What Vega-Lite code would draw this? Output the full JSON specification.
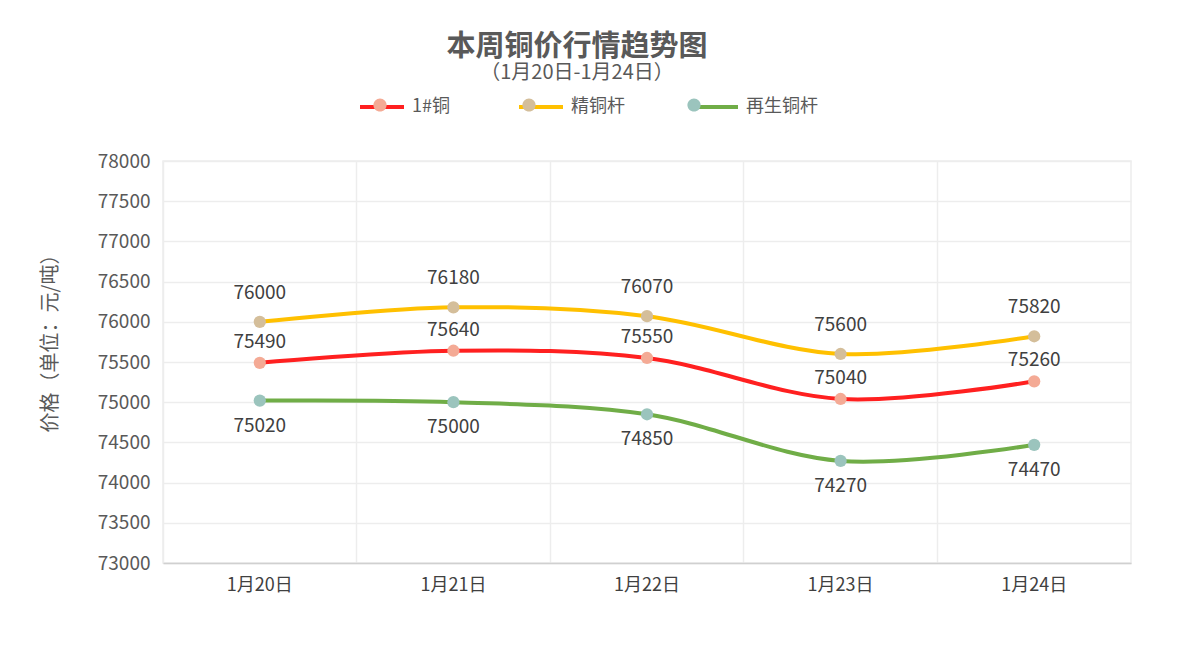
{
  "$schema": "https://vega.github.io/schema/vega-lite/v6.json",
  "width": 968,
  "height": 402,
  "autosize": {"type": "none"},
  "padding": {"left": 163, "top": 161, "right": 49, "bottom": 83},
  "background": "white",
  "config": {
    "font": "Noto Sans CJK SC",
    "view": {"stroke": "#EDEDED", "strokeWidth": 1.5},
    "legend": {"padding": 0}
  },
  "title": {
    "text": "本周铜价行情趋势图",
    "subtitle": "（1月20日-1月24日）",
    "anchor": "middle",
    "dx": -70,
    "fontSize": 29,
    "fontWeight": "bold",
    "color": "#595959",
    "subtitleFontSize": 20,
    "subtitleColor": "#595959",
    "subtitlePadding": 1,
    "offset": 0
  },
  "data": {
    "values": [
      {"date": "1月20日", "series": "1#铜", "price": 75490},
      {"date": "1月21日", "series": "1#铜", "price": 75640},
      {"date": "1月22日", "series": "1#铜", "price": 75550},
      {"date": "1月23日", "series": "1#铜", "price": 75040},
      {"date": "1月24日", "series": "1#铜", "price": 75260},
      {"date": "1月20日", "series": "精铜杆", "price": 76000},
      {"date": "1月21日", "series": "精铜杆", "price": 76180},
      {"date": "1月22日", "series": "精铜杆", "price": 76070},
      {"date": "1月23日", "series": "精铜杆", "price": 75600},
      {"date": "1月24日", "series": "精铜杆", "price": 75820},
      {"date": "1月20日", "series": "再生铜杆", "price": 75020},
      {"date": "1月21日", "series": "再生铜杆", "price": 75000},
      {"date": "1月22日", "series": "再生铜杆", "price": 74850},
      {"date": "1月23日", "series": "再生铜杆", "price": 74270},
      {"date": "1月24日", "series": "再生铜杆", "price": 74470}
    ]
  },
  "resolve": {"axis": {"x": "independent"}},
  "layer": [
    {
      "mark": {"type": "line", "interpolate": "catmull-rom", "strokeWidth": 4},
      "encoding": {
        "x": {
          "field": "date", "type": "nominal", "sort": null, "bandPosition": 0.5,
          "scale": {"type": "band", "paddingInner": 0, "paddingOuter": 0},
          "axis": {
            "orient": "bottom", "title": null, "labels": false, "ticks": false,
            "grid": true, "bandPosition": 0, "gridColor": "#EDEDED", "gridWidth": 1.5,
            "domain": true, "domainColor": "#D0D0D0", "domainWidth": 1.5
          }
        },
        "y": {
          "field": "price", "type": "quantitative",
          "scale": {"domain": [73000, 78000], "nice": false, "zero": false},
          "axis": {
            "values": [73000, 73500, 74000, 74500, 75000, 75500, 76000, 76500, 77000, 77500, 78000],
            "format": "d", "ticks": false, "domain": false,
            "gridColor": "#EDEDED", "gridWidth": 1.5,
            "labelFontSize": 19, "labelColor": "#595959", "labelPadding": 13,
            "title": "价格（单位：元/吨）", "titleFontSize": 20, "titleFontWeight": "normal",
            "titleColor": "#595959", "titleX": -113, "titleY": 177,
            "titleAlign": "center", "titleBaseline": "middle", "titleAngle": 270
          }
        },
        "stroke": {
          "field": "series", "type": "nominal",
          "scale": {"domain": ["1#铜", "精铜杆", "再生铜杆"], "range": ["#FF2020", "#FFC000", "#70AD47"]},
          "legend": {
            "orient": "none", "direction": "horizontal", "legendX": 195, "legendY": -78,
            "title": null, "symbolType": "stroke", "symbolSize": 1936, "symbolStrokeWidth": 4,
            "labelFontSize": 18, "labelColor": "#595959", "labelOffset": 6, "columnPadding": 61
          }
        }
      }
    },
    {
      "mark": {"type": "point", "filled": true, "size": 150, "opacity": 1},
      "encoding": {
        "x": {
          "field": "date", "type": "nominal", "sort": null, "bandPosition": 0.5,
          "axis": {
            "orient": "bottom", "title": null, "ticks": false, "grid": false, "domain": false,
            "labelAngle": 0, "labelFontSize": 18, "labelColor": "#404040", "labelPadding": 13
          }
        },
        "y": {"field": "price", "type": "quantitative"},
        "fill": {
          "field": "series", "type": "nominal", "sort": null,
          "scale": {"range": ["#F4AA95", "#D4BE9A", "#9BC4BD"]},
          "legend": {
            "orient": "none", "direction": "horizontal", "legendX": 195, "legendY": -78,
            "title": null, "symbolType": "M -0.3 0 A 0.3 0.3 0 1 0 0.3 0 A 0.3 0.3 0 1 0 -0.3 0 Z",
            "symbolSize": 1936, "symbolStrokeWidth": 0, "symbolOpacity": 1,
            "labelFontSize": 18, "labelColor": "#595959", "labelOpacity": 0, "labelOffset": 6, "columnPadding": 61
          }
        }
      }
    },
    {
      "transform": [{"filter": "datum.series === '精铜杆'"}],
      "mark": {"type": "text", "dy": -29, "fontSize": 19, "color": "#404040"},
      "encoding": {
        "x": {"field": "date", "type": "nominal", "sort": null, "bandPosition": 0.5, "axis": null},
        "y": {"field": "price", "type": "quantitative"},
        "text": {"field": "price", "type": "quantitative", "format": "d"}
      }
    },
    {
      "transform": [{"filter": "datum.series === '1#铜'"}],
      "mark": {"type": "text", "dy": -21, "fontSize": 19, "color": "#404040"},
      "encoding": {
        "x": {"field": "date", "type": "nominal", "sort": null, "bandPosition": 0.5, "axis": null},
        "y": {"field": "price", "type": "quantitative"},
        "text": {"field": "price", "type": "quantitative", "format": "d"}
      }
    },
    {
      "transform": [{"filter": "datum.series === '再生铜杆'"}],
      "mark": {"type": "text", "dy": 25, "fontSize": 19, "color": "#404040"},
      "encoding": {
        "x": {"field": "date", "type": "nominal", "sort": null, "bandPosition": 0.5, "axis": null},
        "y": {"field": "price", "type": "quantitative"},
        "text": {"field": "price", "type": "quantitative", "format": "d"}
      }
    }
  ]
}
